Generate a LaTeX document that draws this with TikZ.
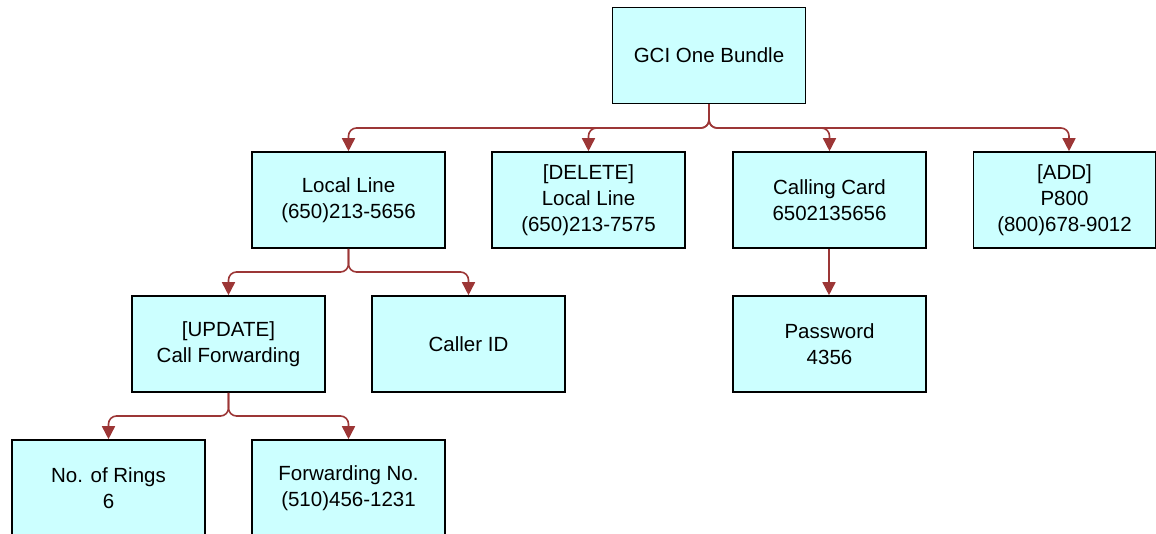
\documentclass[tikz,border=0pt]{standalone}
\usepackage{fontspec}
\setmainfont{Liberation Sans}
\usetikzlibrary{arrows.meta}
\definecolor{boxfill}{HTML}{CCFFFF}
\definecolor{conncol}{HTML}{9C3636}
\begin{document}
\begin{tikzpicture}[x=1pt,y=-1pt,
  box/.style={draw=black,line width=1.6pt,fill=boxfill,minimum width=193pt,minimum height=96pt,
    align=center,inner sep=0pt,font=\fontsize{20.5}{26}\selectfont},
  conn/.style={draw=conncol,line width=1.6pt,rounded corners=8pt,
    -{Triangle[length=13pt,width=13pt,fill=conncol]}}]
\useasboundingbox (0,0) rectangle (1156,533);
\node[box] (root) at (709,55.5) {GCI One Bundle};
\node[box] (ll) at (348.5,200) {Local Line\\(650)213-5656};
\node[box] (del) at (588.5,200) {[DELETE]\\Local Line\\(650)213-7575};
\node[box] (cc) at (829.5,200) {Calling Card\\6502135656};
\node[box,minimum width=182pt] (add) at (1064.5,200) {[ADD]\\P800\\(800)678-9012};
\node[box] (upd) at (228.5,344) {[UPDATE]\\Call Forwarding};
\node[box] (cid) at (468.5,344) {Caller ID};
\node[box] (pw) at (829.5,344) {Password\\4356};
\node[box] (rings) at (108.5,488) {No. of Rings\\6};
\node[box] (fwd) at (348.5,488) {Forwarding No.\\(510)456-1231};
\coordinate (b1) at (0,128);
\coordinate (b2) at (0,272);
\coordinate (b3) at (0,416);
\draw[conn] (root.south) -- (root.south |- b1) -| (ll.north);
\draw[conn] (root.south) -- (root.south |- b1) -| (del.north);
\draw[conn] (root.south) -- (root.south |- b1) -| (cc.north);
\draw[conn] (root.south) -- (root.south |- b1) -| ([xshift=4.5pt]add.north);
\draw[conn] (ll.south) -- (ll.south |- b2) -| (upd.north);
\draw[conn] (ll.south) -- (ll.south |- b2) -| (cid.north);
\draw[conn] ([xshift=-0.5pt]cc.south) -- ([xshift=-0.5pt]pw.north);
\draw[conn] (upd.south) -- (upd.south |- b3) -| (rings.north);
\draw[conn] (upd.south) -- (upd.south |- b3) -| (fwd.north);
\end{tikzpicture}
\end{document}
